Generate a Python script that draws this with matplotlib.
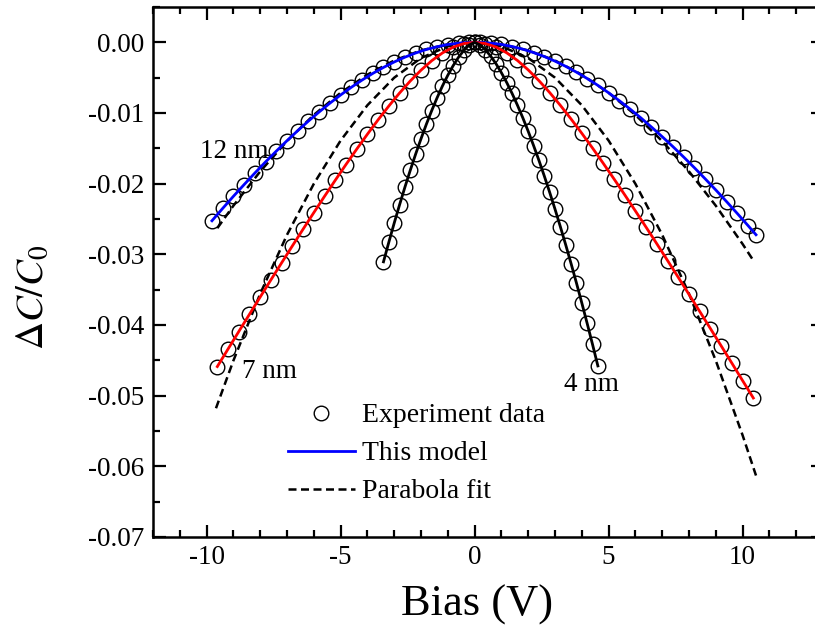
import matplotlib
matplotlib.use("Agg")
import matplotlib.pyplot as plt
from matplotlib.lines import Line2D
from matplotlib.ticker import MultipleLocator, FormatStrFormatter

plt.rcParams['font.family'] = ['Liberation Serif', 'DejaVu Serif']
plt.rcParams['mathtext.fontset'] = 'stix'
plt.rcParams['axes.unicode_minus'] = False

# ---------------- data ----------------
# 4 nm
v4 = [-3.4, -3.2, -3.0, -2.8, -2.6, -2.4, -2.2, -2.0, -1.8, -1.6, -1.4, -1.2, -1.0,
      -0.8, -0.6, -0.4, -0.2, 0.0, 0.2, 0.4, 0.6, 0.8, 1.0, 1.2, 1.4, 1.6, 1.8, 2.0,
      2.2, 2.4, 2.6, 2.8, 3.0, 3.2, 3.4, 3.6, 3.8, 4.0, 4.2, 4.4, 4.6]
exp4 = [-0.03106, -0.02828, -0.02558, -0.02299, -0.02049, -0.01810, -0.01582, -0.01365,
        -0.01159, -0.00966, -0.00785, -0.00618, -0.00466, -0.00330, -0.00211, -0.00113,
        -0.00038, 0.0, -0.00035, -0.00104, -0.00195, -0.00304, -0.00430, -0.00570,
        -0.00724, -0.00891, -0.01069, -0.01259, -0.01460, -0.01670, -0.01891, -0.02121,
        -0.02360, -0.02609, -0.02866, -0.03131, -0.03405, -0.03687, -0.03977, -0.04274,
        -0.04579]
model4 = list(exp4)

# 7 nm
v7 = [-9.6, -9.2, -8.8, -8.4, -8.0, -7.6, -7.2, -6.8, -6.4, -6.0, -5.6, -5.2, -4.8,
      -4.4, -4.0, -3.6, -3.2, -2.8, -2.4, -2.0, -1.6, -1.2, -0.8, -0.4, 0.0, 0.4, 0.8,
      1.2, 1.6, 2.0, 2.4, 2.8, 3.2, 3.6, 4.0, 4.4, 4.8, 5.2, 5.6, 6.0, 6.4, 6.8, 7.2,
      7.6, 8.0, 8.4, 8.8, 9.2, 9.6, 10.0, 10.4]
exp7 = [-0.04588, -0.04340, -0.04093, -0.03848, -0.03604, -0.03361, -0.03120, -0.02881,
        -0.02644, -0.02410, -0.02179, -0.01952, -0.01729, -0.01512, -0.01300, -0.01096,
        -0.00901, -0.00717, -0.00547, -0.00394, -0.00260, -0.00150, -0.00068, -0.00017,
        0.0, -0.00017, -0.00067, -0.00149, -0.00257, -0.00390, -0.00542, -0.00710,
        -0.00892, -0.01085, -0.01287, -0.01496, -0.01712, -0.01932, -0.02157, -0.02386,
        -0.02617, -0.02851, -0.03088, -0.03326, -0.03567, -0.03808, -0.04051, -0.04295,
        -0.04540, -0.04787, -0.05033]
model7 = list(exp7)
vp7 = [-9.65, -9.0, -8.0, -7.0, -6.0, -5.0, -4.0, -3.0, -2.0, -1.0, 0.0, 1.0, 2.0, 3.0,
       4.0, 5.0, 6.0, 7.0, 8.0, 9.0, 10.0, 10.5]
para7 = [-0.05178, -0.04504, -0.03558, -0.02724, -0.02002, -0.01390, -0.00890, -0.00500,
         -0.00222, -0.00056, 0.0, -0.00056, -0.00222, -0.00500, -0.00890, -0.01390,
         -0.02002, -0.02724, -0.03558, -0.04504, -0.05560, -0.06130]

# 12 nm
v12 = [-9.8, -9.4, -9.0, -8.6, -8.2, -7.8, -7.4, -7.0, -6.6, -6.2, -5.8, -5.4, -5.0,
       -4.6, -4.2, -3.8, -3.4, -3.0, -2.6, -2.2, -1.8, -1.4, -1.0, -0.6, -0.2, 0.2, 0.6,
       1.0, 1.4, 1.8, 2.2, 2.6, 3.0, 3.4, 3.8, 4.2, 4.6, 5.0, 5.4, 5.8, 6.2, 6.6, 7.0,
       7.4, 7.8, 8.2, 8.6, 9.0, 9.4, 9.8, 10.2, 10.5]
exp12 = [-0.02525, -0.02350, -0.02179, -0.02013, -0.01850, -0.01692, -0.01540, -0.01392,
         -0.01250, -0.01114, -0.00985, -0.00861, -0.00745, -0.00636, -0.00534, -0.00440,
         -0.00355, -0.00278, -0.00210, -0.00151, -0.00101, -0.00062, -0.00031, -0.00011,
         -0.00001, -0.00001, -0.00011, -0.00030, -0.00059, -0.00097, -0.00145, -0.00201,
         -0.00266, -0.00340, -0.00422, -0.00512, -0.00609, -0.00714, -0.00826, -0.00944,
         -0.01068, -0.01199, -0.01335, -0.01476, -0.01623, -0.01774, -0.01930, -0.02089,
         -0.02253, -0.02421, -0.02592, -0.02723]
model12 = list(exp12)
vp12 = [-9.6, -9.0, -8.0, -7.0, -6.0, -5.0, -4.0, -3.0, -2.0, -1.0, 0.0, 1.0, 2.0, 3.0,
        4.0, 5.0, 6.0, 7.0, 8.0, 9.0, 10.0, 10.4]
para12 = [-0.02630, -0.02312, -0.01827, -0.01398, -0.01027, -0.00714, -0.00457, -0.00257,
          -0.00114, -0.00029, 0.0, -0.00029, -0.00114, -0.00257, -0.00457, -0.00714,
          -0.01027, -0.01398, -0.01827, -0.02312, -0.02854, -0.03087]

labels = ["12 nm", "7 nm", "4 nm"]
label_pos = [(-8.95, -0.0155), (-7.65, -0.0466), (4.35, -0.0484)]

# ---------------- figure ----------------
fig = plt.figure(figsize=(8.15, 6.35), dpi=100)
ax = fig.add_axes([153 / 815, 1 - 537 / 635, 670 / 815, 530 / 635])

mk = dict(linestyle='none', marker='o', ms=10.5, mfc='none', mec='black', mew=1.0, zorder=2)
dash = dict(color='black', lw=1.8, dashes=(3.2, 1.8), zorder=3)

ax.plot(v12, exp12, **mk)
ax.plot(v7, exp7, **mk)
ax.plot(v4, exp4, **mk)

ax.plot(vp12, para12, **dash)
ax.plot(vp7, para7, **dash)

ax.plot(v12, model12, color='blue', lw=2.0, zorder=4)
ax.plot(v7, model7, color='red', lw=2.0, zorder=4)
ax.plot(v4, model4, color='black', lw=2.0, zorder=4)

for t, (x, y) in zip(labels, label_pos):
    ax.text(x, y, t, fontsize=19.5, ha='center', va='center')

ax.set_xlim(-12, 13)
ax.set_ylim(-0.07, 0.005)
ax.xaxis.set_major_locator(MultipleLocator(5))
ax.xaxis.set_minor_locator(MultipleLocator(1))
ax.yaxis.set_major_locator(MultipleLocator(0.01))
ax.yaxis.set_minor_locator(MultipleLocator(0.005))
ax.yaxis.set_major_formatter(FormatStrFormatter('%.2f'))

ax.tick_params(which='both', direction='in', top=True, right=True, width=1.6,
               labelsize=19.5)
ax.tick_params(which='major', length=9, pad=6)
ax.tick_params(which='minor', length=5)
for s in ax.spines.values():
    s.set_linewidth(1.8)

ax.set_xlabel('Bias (V)', fontsize=32)
ax.set_ylabel(r'$\Delta C/C_0$', fontsize=28)
ax.xaxis.set_label_coords((477 - 153) / 670, -(605 - 537) / 530)
ax.yaxis.set_label_coords(-(153 - 33) / 670, (537 - 297) / 530)
ax.xaxis.label.set_va('center')
ax.yaxis.label.set_va('center')

handles = [Line2D([], [], linestyle='none', marker='o', ms=10.5, mfc='none', mec='black', mew=1.0),
           Line2D([], [], color='blue', lw=2.0),
           Line2D([], [], color='black', lw=1.8, dashes=(3.2, 1.8))]
ax.legend(handles, ['Experiment data', 'This model', 'Parabola fit'],
          loc='upper left', bbox_to_anchor=((288 - 153) / 670, (537 - 403) / 530),
          frameon=False, fontsize=20, handlelength=2.4, handletextpad=0.25,
          labelspacing=0.45, borderaxespad=0, borderpad=0)

fig.savefig('out.png', dpi=100)
